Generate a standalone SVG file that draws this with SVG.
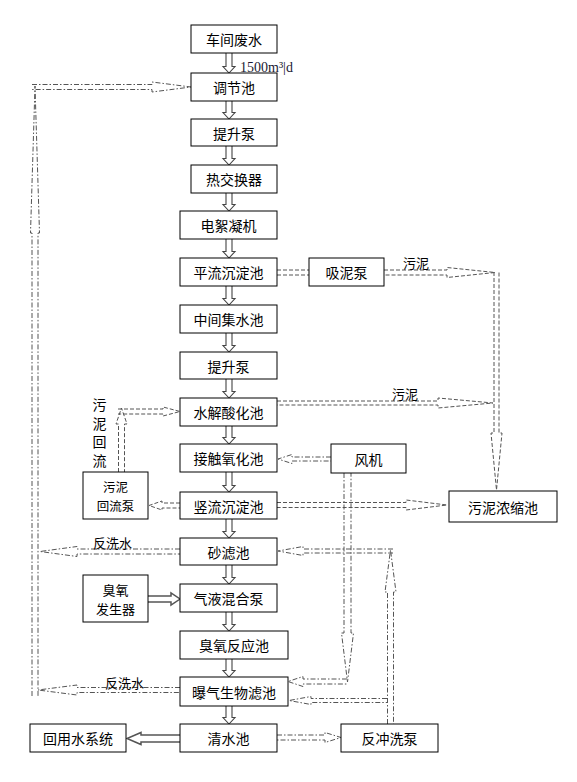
<svg xmlns="http://www.w3.org/2000/svg" width="577" height="782" viewBox="0 0 577 782">
<style>
.box{fill:#fff;stroke:#000;stroke-width:1}
.t{font-family:"Noto Sans CJK SC","Noto Sans",sans-serif;font-size:14px;fill:#000;text-anchor:middle;dominant-baseline:central}
.t2{font-family:"Noto Sans CJK SC","Noto Sans",sans-serif;font-size:12.5px;fill:#000;text-anchor:middle;dominant-baseline:central}
.lb{font-family:"Noto Sans CJK SC","Noto Sans",sans-serif;font-size:13px;fill:#000;dominant-baseline:central}
.flow{fill:#fff;stroke:#444;stroke-width:1.1}
.solid{fill:#fff;stroke:#555;stroke-width:1.5}
.dd{fill:none;stroke:#555;stroke-width:1;stroke-dasharray:5,2,1.5,2}
.ds{fill:none;stroke:#555;stroke-width:1;stroke-dasharray:4,2}
</style>
<rect width="577" height="782" fill="#fff"/>
<g id="connectors">
<path class="flow" d="M226,53 V66.5 H223 L229,73 L235,66.5 H232 V53"/>
<path class="flow" d="M226,101 V112.5 H223 L229,119 L235,112.5 H232 V101"/>
<path class="flow" d="M226,146 V158.5 H223 L229,165 L235,158.5 H232 V146"/>
<path class="flow" d="M226,193 V204.5 H223 L229,211 L235,204.5 H232 V193"/>
<path class="flow" d="M226,239 V251.5 H223 L229,258 L235,251.5 H232 V239"/>
<path class="flow" d="M226,286 V298.5 H223 L229,305 L235,298.5 H232 V286"/>
<path class="flow" d="M226,333 V345.5 H223 L229,352 L235,345.5 H232 V333"/>
<path class="flow" d="M226,379 V391.5 H223 L229,398 L235,391.5 H232 V379"/>
<path class="flow" d="M226,426 V437.5 H223 L229,444 L235,437.5 H232 V426"/>
<path class="flow" d="M226,472 V485.5 H223 L229,492 L235,485.5 H232 V472"/>
<path class="flow" d="M226,519 V531.5 H223 L229,538 L235,531.5 H232 V519"/>
<path class="flow" d="M226,565 V577.5 H223 L229,584 L235,577.5 H232 V565"/>
<path class="flow" d="M226,612 V624.5 H223 L229,631 L235,624.5 H232 V612"/>
<path class="flow" d="M226,659 V670.5 H223 L229,677 L235,670.5 H232 V659"/>
<path class="flow" d="M226,706 V717.5 H223 L229,724 L235,717.5 H232 V706"/>
<path class="solid" d="M148,596 H171 V593 L180,599 L171,605 V602 H148"/>
<path class="solid" d="M180,735 H141 V732.5 L127,738.5 L141,744.5 V742 H180"/>
<path class="dd" d="M32,84.5 H152 V82 L191,87 L152,92 V89.5 H32"/>
<path class="dd" d="M32,696 V233 H30.5 L35,86 L39.5,233 H38 V696"/>
<path class="dd" d="M180,549 H77 V546.5 L40,551.5 L77,556.5 V554 H180"/>
<path class="dd" d="M180,687.5 H77 V685 L38,690 L77,695 V692.5 H180"/>
<path class="ds" d="M277,270 H309 M277,275 H309"/>
<path class="ds" d="M384,270 H447 V267.5 L495,272.5 L447,277.5 V275 H384"/>
<path class="ds" d="M494,272 V433 H491 L496.5,490 L502,433 H499 V272"/>
<path class="ds" d="M277,401 H438 V398 L493,403 L438,408 V405 H277"/>
<path class="ds" d="M118.5,472 V424 H116 L121.5,408 L127,424 H124.5 V472"/>
<path class="ds" d="M118,409 H163 V407 L180,411.5 L163,416 V414 H118"/>
<path class="ds" d="M180,503 H162 V501 L149,505.5 L162,510 V508 H180"/>
<path class="ds" d="M277,502.5 H406 V500 L447,505 L406,510 V507.5 H277"/>
<path class="dd" d="M331,457 H292 V454.5 L278,459 L292,463.5 V461 H331"/>
<path class="dd" d="M344,473 V633 H341.5 L347.5,682 L353.5,633 H351 V473"/>
<path class="dd" d="M347,679 H303 V676.5 L288,681.5 L303,686.5 V684 H347"/>
<path class="dd" d="M387.5,724 V592 H385 L390.5,550 L396,592 H393.5 V724"/>
<path class="dd" d="M393,549 H303 V546.5 L278,551 L303,555.5 V553 H393"/>
<path class="dd" d="M387,698.5 H311 V696.5 L289,700.5 L311,704.5 V702.5 H387"/>
<path class="dd" d="M277,735 H325 V732.5 L341,737.5 L325,742.5 V740 H277"/>
</g>
<g id="n1"><rect class="box" x="191" y="25" width="86" height="28"/><text class="t" x="234" y="39">车间废水</text></g>
<g id="n2"><rect class="box" x="191" y="73" width="86" height="28"/><text class="t" x="234" y="87">调节池</text></g>
<g id="n3"><rect class="box" x="191" y="119" width="86" height="27"/><text class="t" x="234" y="132.5">提升泵</text></g>
<g id="n4"><rect class="box" x="191" y="165" width="86" height="28"/><text class="t" x="234" y="179">热交换器</text></g>
<g id="n5"><rect class="box" x="180" y="211" width="97" height="28"/><text class="t" x="228.5" y="225">电絮凝机</text></g>
<g id="n6"><rect class="box" x="180" y="258" width="97" height="28"/><text class="t" x="228.5" y="272">平流沉淀池</text></g>
<g id="n7"><rect class="box" x="309" y="258" width="75" height="28"/><text class="t" x="346.5" y="272">吸泥泵</text></g>
<g id="n8"><rect class="box" x="180" y="305" width="97" height="28"/><text class="t" x="228.5" y="319">中间集水池</text></g>
<g id="n9"><rect class="box" x="180" y="352" width="97" height="27"/><text class="t" x="228.5" y="365.5">提升泵</text></g>
<g id="n10"><rect class="box" x="180" y="398" width="97" height="28"/><text class="t" x="228.5" y="412">水解酸化池</text></g>
<g id="n11"><rect class="box" x="180" y="444" width="97" height="28"/><text class="t" x="228.5" y="458">接触氧化池</text></g>
<g id="n12"><rect class="box" x="331" y="444" width="75" height="29"/><text class="t" x="368.5" y="458.5">风机</text></g>
<g id="n13"><rect class="box" x="83" y="472" width="65" height="47"/><text class="t2" x="115.5" y="486.5">污泥</text><text class="t2" x="115.5" y="505.5">回流泵</text></g>
<g id="n14"><rect class="box" x="180" y="492" width="97" height="27"/><text class="t" x="228.5" y="505.5">竖流沉淀池</text></g>
<g id="n15"><rect class="box" x="449" y="491" width="108" height="31"/><text class="t" x="503" y="506.5">污泥浓缩池</text></g>
<g id="n16"><rect class="box" x="180" y="538" width="97" height="27"/><text class="t" x="228.5" y="551.5">砂滤池</text></g>
<g id="n17"><rect class="box" x="83" y="575" width="65" height="47"/><text class="t2" x="115.5" y="589.5" style="font-size:13px">臭氧</text><text class="t2" x="115.5" y="608.5" style="font-size:13px">发生器</text></g>
<g id="n18"><rect class="box" x="180" y="584" width="97" height="28"/><text class="t" x="228.5" y="598">气液混合泵</text></g>
<g id="n19"><rect class="box" x="180" y="631" width="108" height="28"/><text class="t" x="234" y="645">臭氧反应池</text></g>
<g id="n20"><rect class="box" x="180" y="677" width="108" height="29"/><text class="t" x="234" y="691.5">曝气生物滤池</text></g>
<g id="n21"><rect class="box" x="180" y="724" width="97" height="28"/><text class="t" x="228.5" y="738">清水池</text></g>
<g id="n22"><rect class="box" x="30" y="724" width="96" height="28"/><text class="t" x="78" y="738">回用水系统</text></g>
<g id="n23"><rect class="box" x="341" y="724" width="97" height="28"/><text class="t" x="389.5" y="738">反冲洗泵</text></g>
<g id="labels">
<text x="240" y="72" style="font-family:'Liberation Serif',serif;font-size:14px;fill:#1a1a33">1500m³|d</text>
<text class="lb" x="403" y="262">污泥</text>
<text class="lb" x="392" y="393">污泥</text>
<text class="t" x="99.5" y="404">污</text>
<text class="t" x="99.5" y="422.5">泥</text>
<text class="t" x="99.5" y="441">回</text>
<text class="t" x="99.5" y="459.5">流</text>
<text class="lb" x="93" y="542.5">反洗水</text>
<text class="lb" x="105" y="682">反洗水</text>
</g>
</svg>
